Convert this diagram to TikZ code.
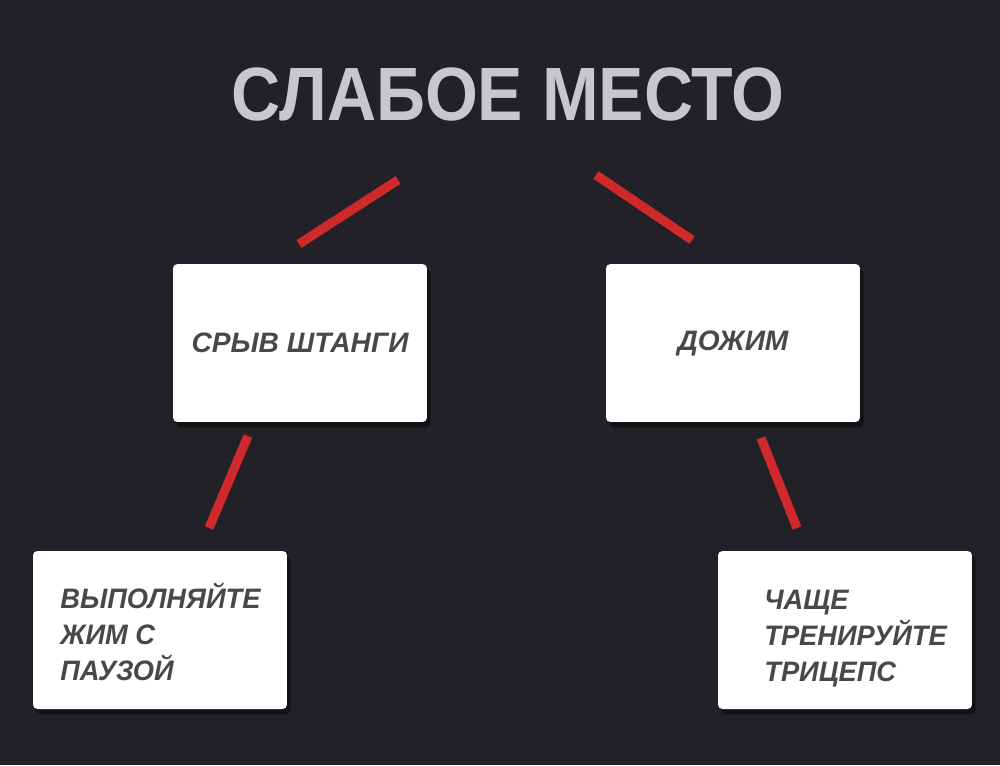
\documentclass[tikz,border=0pt]{standalone}
\usepackage{fontspec}
\setmainfont{Liberation Sans}
\usetikzlibrary{shadows}
\definecolor{bg}{HTML}{222127}
\definecolor{titlegray}{HTML}{C9C7C9}
\definecolor{textgray}{HTML}{4A4749}
\definecolor{linered}{HTML}{D0292C}
\tikzset{
  card/.style={fill=white, rounded corners=2.5pt, minimum width=5.08cm, minimum height=3.16cm, inner sep=0pt,
    drop shadow={fill=black, opacity=0.45, shadow xshift=2pt, shadow yshift=-3pt}},
  cardtext/.style={text=textgray, font=\fontsize{16}{20.5}\selectfont\bfseries\itshape, inner sep=0pt},
  link/.style={draw=linered, line width=5.2pt},
}
\begin{document}
\begin{tikzpicture}[x=0.02cm, y=-0.02cm]
\fill[bg] (0,0) rectangle (1000,765);
\useasboundingbox (0,0) rectangle (1000,765);
\node[text=titlegray, font=\fontsize{43}{48}\selectfont\bfseries, inner sep=0pt, xscale=0.9] (title) at (508,94) {СЛАБОЕ МЕСТО};
\node[card] (a) at (300,343) {};
\node[card] (b) at (733,343) {};
\node[card] (c) at (160,630) {};
\node[card] (d) at (845,630) {};
\node[cardtext] (ta) at (a.center) {СРЫВ ШТАНГИ};
\node[cardtext] (tb) at (b.center) {ДОЖИМ};
\node[cardtext, align=left, anchor=west, xscale=0.97] (tc) at (60,632) {ВЫПОЛНЯЙТЕ\\ЖИМ С\\ПАУЗОЙ};
\node[cardtext, align=left, anchor=west, xscale=0.97] (td) at (764,639) {ЧАЩЕ\\ТРЕНИРУЙТЕ\\ТРИЦЕПС};
\coordinate (l1a) at (299,244); \coordinate (l1b) at (398,180);
\coordinate (l2a) at (596,175); \coordinate (l2b) at (692,240);
\coordinate (l3a) at (248,436); \coordinate (l3b) at (209,528);
\coordinate (l4a) at (761,438); \coordinate (l4b) at (797,528);
\draw[link] (l1a) -- (l1b);
\draw[link] (l2a) -- (l2b);
\draw[link] (l3a) -- (l3b);
\draw[link] (l4a) -- (l4b);
\end{tikzpicture}
\end{document}
